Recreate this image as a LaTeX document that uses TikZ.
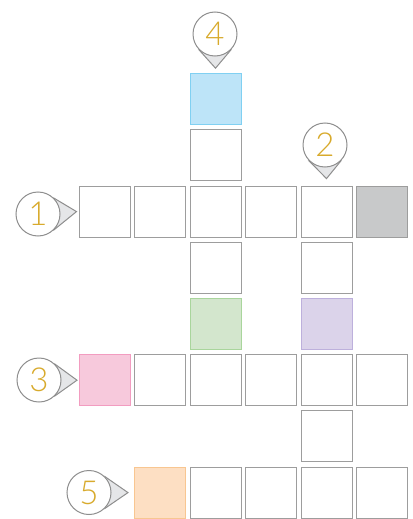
\documentclass[tikz,border=0pt]{standalone}
\usepackage{fontspec}
\setmainfont{Lato Light}
\usepackage{tikz}
\usetikzlibrary{calc,backgrounds}
\definecolor{edge}{HTML}{9D9D9D}
\definecolor{ring}{HTML}{8E8E8E}
\definecolor{gold}{HTML}{D8AA2C}
\definecolor{tipfill}{HTML}{E5E6E8}
\definecolor{bluefill}{HTML}{BDE4F8}   \definecolor{blueline}{HTML}{80D0F2}
\definecolor{greyfill}{HTML}{C8C9CA}   \definecolor{greyline}{HTML}{9D9D9D}
\definecolor{greenfill}{HTML}{D3E6CD}  \definecolor{greenline}{HTML}{A9D59C}
\definecolor{purplefill}{HTML}{DBD3EA} \definecolor{purpleline}{HTML}{BDB0DC}
\definecolor{pinkfill}{HTML}{F7C9DC}   \definecolor{pinkline}{HTML}{F29CC0}
\definecolor{orangefill}{HTML}{FDDFC3} \definecolor{orangeline}{HTML}{F8C691}

\begin{document}
\begin{tikzpicture}[x=1pt,y=-1pt,
  cell/.style={draw=edge,fill=white,line width=1pt,minimum size=51pt,inner sep=0pt},
  bubble/.style={circle,draw=ring,fill=white,line width=1pt,minimum size=44pt,inner sep=0pt,
    text=gold,font=\fontsize{33}{33}\selectfont},
  pointer/.style={draw=ring,fill=tipfill,line width=1pt,line join=miter}]
\useasboundingbox (0,0) rectangle (412,519);
% plain cells: column/row
\foreach \c/\r in {2/1, 0/2,1/2,2/2,3/2,4/2, 2/3,4/3, 1/5,2/5,3/5,4/5,5/5, 4/6, 2/7,3/7,4/7,5/7}
  \node[cell] (s\r\c) at ({104.5+55.5*\c},{99.2+56.2*\r}) {};
% coloured cells
\foreach \c/\r/\f in {2/0/blue, 5/2/grey, 2/4/green, 4/4/purple, 0/5/pink, 1/7/orange}
  \node[cell,fill=\f fill,draw=\f line] (s\r\c) at ({104.5+55.5*\c},{99.2+56.2*\r}) {};
% numbered callouts
\node[bubble] (b1) at (38,214) {1};
\node[bubble] (b2) at (325,145) {2};
\node[bubble] (b3) at (39,380) {3};
\node[bubble] (b4) at (215,34) {4};
\node[bubble] (b5) at (89,492.5) {5};
\begin{pgfonlayer}{background}
\draw[pointer] (b1.45) -- ($(s20.west)+(-2,0)$) -- (b1.-45) -- cycle;
\draw[pointer] (b3.45) -- ($(s50.west)+(-1.5,0)$) -- (b3.-45) -- cycle;
\draw[pointer] (b5.45) -- ($(s71.west)+(-6,0)$) -- (b5.-45) -- cycle;
\draw[pointer] (b4.-45) -- ($(s02.north)+(0,-5)$) -- (b4.-135) -- cycle;
\draw[pointer] (b2.-45) -- ($(s24.north)+(0,-7)$) -- (b2.-135) -- cycle;
\end{pgfonlayer}
\end{tikzpicture}
\end{document}
